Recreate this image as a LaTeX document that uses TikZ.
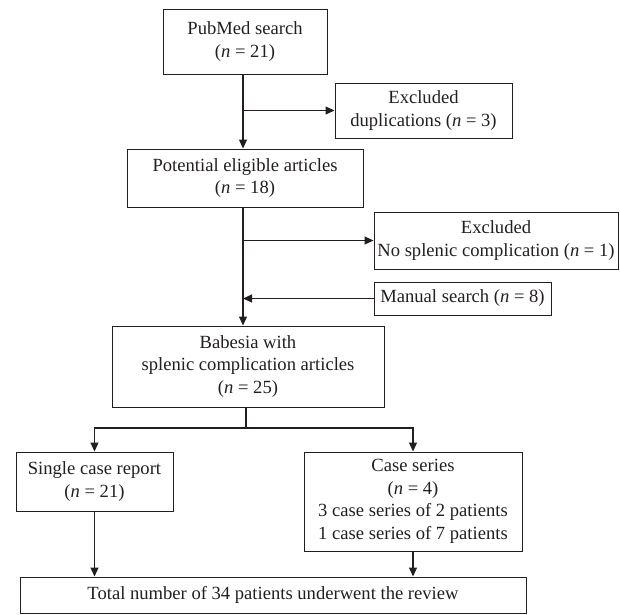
\documentclass[tikz,border=0pt]{standalone}
\usepackage{fontspec}
\setmainfont{Liberation Serif}
\usetikzlibrary{arrows.meta}
\definecolor{ink}{RGB}{35,31,32}
\begin{document}
\begin{tikzpicture}[x=1pt,y=-1pt,
  box/.style={draw=ink, line width=1pt, inner sep=1.5pt, align=center, text=ink,
    font=\fontsize{18.6}{22.5}\selectfont},
  arr/.style={draw=ink, line width=1.2pt, -{Triangle[length=9pt,width=8pt]}},
  ln/.style={draw=ink, line width=1.2pt}]
\useasboundingbox (0,0) rectangle (620,614);
\node[box, minimum width=164pt, minimum height=65pt] (pub) at (245,41.5) {PubMed search\\(\textit{n} = 21)};
\node[box, minimum width=177pt, minimum height=55pt] (dup) at (423.5,110.5) {Excluded\\duplications (\textit{n} = 3)};
\node[box, minimum width=236pt, minimum height=58pt] (pot) at (245,178) {Potential eligible articles\\(\textit{n} = 18)};
\node[box, minimum width=244pt, minimum height=57pt] (spl) at (496,240.5) {Excluded\\No splenic complication (\textit{n} = 1)};
\node[box, minimum width=177pt, minimum height=33pt] (man) at (462.5,298.5) {Manual search (\textit{n} = 8)};
\node[box, minimum width=272pt, minimum height=81pt] (bab) at (248,366.5) {Babesia with\\splenic complication articles\\(\textit{n} = 25)};
\node[box, minimum width=157pt, minimum height=59pt] (single) at (94.5,481.5) {Single case report\\(\textit{n} = 21)};
\node[box, minimum width=218pt, minimum height=99pt] (cases) at (413,501.5) {Case series\\(\textit{n} = 4)\\3 case series of 2 patients\\1 case series of 7 patients};
\node[box, minimum width=506pt, minimum height=36pt] (total) at (273,595) {Total number of 34 patients underwent the review};
\coordinate (sp) at (243,0);
\coordinate (br) at (246,428);
\draw[arr] (pub.south -| sp) -- (pot.north -| sp);
\draw[arr] (dup.west -| sp) -- (dup.west);
\draw[arr] (pot.south -| sp) -- (bab.north -| sp);
\draw[arr] (spl.west -| sp) -- (spl.west);
\draw[arr] (man.west) -- (man.west -| sp);
\draw[ln] (bab.south -| br) -- (br);
\draw[arr] (br) -| (single.north);
\draw[arr] (br) -| (cases.north);
\draw[arr] (single.south) -- (single.south |- total.north);
\draw[arr] (cases.south) -- (cases.south |- total.north);
\end{tikzpicture}
\end{document}
